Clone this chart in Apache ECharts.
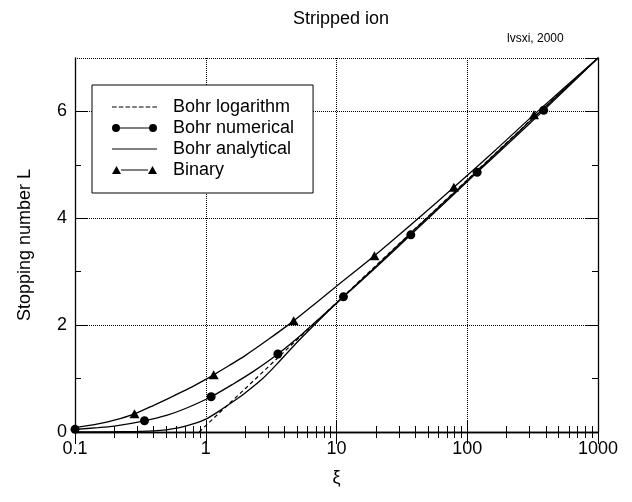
<!DOCTYPE html>
<html><head><meta charset="utf-8">
<script src="https://cdn.jsdelivr.net/npm/echarts@6/dist/echarts.min.js"></script>
<style>html,body{margin:0;padding:0;background:#fff}#c{width:632px;height:502px}</style>
</head><body><div id="c"></div>
<script>
const titleText = 'Stripped ion';
const creditText = 'lvsxi, 2000';
const xName = 'ξ';
const yName = 'Stopping number L';
const seriesNames = ['Bohr logarithm', 'Bohr numerical', 'Bohr analytical', 'Binary'];

const xMinorTicks = [0.2,0.3,0.4,0.5,0.6,0.7,0.8,0.9,2,3,4,5,6,7,8,9,20,30,40,50,60,70,80,90,200,300,400,500,600,700,800,900];
const yMinorTicks = [1, 3, 5];

const logXi = [0.89, 1, 2, 5, 10, 30, 100, 300, 1000];
const logL  = [0, 0.12, 0.81, 1.73, 2.42, 3.52, 4.72, 5.82, 7.0];

const numXi = [0.1, 0.15, 0.2, 0.34, 0.5, 0.7, 1.1, 1.6, 2.3, 3.56, 5.5, 8, 11.3, 20, 37, 70, 119, 200, 384, 1000];
const numL  = [0.05, 0.08, 0.11, 0.21, 0.31, 0.44, 0.66, 0.89, 1.13, 1.46, 1.84, 2.2, 2.53, 3.08, 3.69, 4.33, 4.86, 5.37, 6.02, 7.0];
const numMarkXi = [0.1, 0.34, 1.1, 3.56, 11.3, 37, 119, 384];
const numMarkL  = [0.05, 0.21, 0.66, 1.46, 2.53, 3.69, 4.86, 6.02];

const anaXi = [0.1, 0.2, 0.3, 0.4, 0.5, 0.63, 0.8, 1.0, 1.3, 1.6, 2, 2.7, 3.5, 5, 7, 10, 20, 40, 100, 300, 1000];
const anaL  = [0, 0.005, 0.012, 0.02, 0.04, 0.08, 0.15, 0.24, 0.41, 0.56, 0.73, 0.99, 1.27, 1.68, 2.04, 2.41, 3.1, 3.8, 4.71, 5.81, 7.0];

const binXi = [0.1, 0.15, 0.2, 0.285, 0.4, 0.53, 0.75, 1.0, 1.15, 1.5, 2, 3, 4.7, 7, 10, 19.5, 40, 79, 160, 324, 1000];
const binL  = [0.08, 0.15, 0.22, 0.34, 0.5, 0.64, 0.82, 0.985, 1.07, 1.24, 1.43, 1.73, 2.08, 2.42, 2.73, 3.3, 3.95, 4.58, 5.25, 5.94, 7.0];
const binMarkXi = [0.285, 1.15, 4.7, 19.5, 79, 324];
const binMarkL  = [0.34, 1.07, 2.08, 3.3, 4.58, 5.94];

const zip = (a, b) => a.map((v, i) => [v, b[i]]);
const FONT = 'Liberation Sans, Arial, sans-serif';
const BLACK = '#000';

const dashIcon = 'path://M0,5.4h4.5v1.2h-4.5z M6.5,5.4h4.5v1.2h-4.5z M13,5.4h4.5v1.2h-4.5z M19.5,5.4h4.5v1.2h-4.5z M26,5.4h4.5v1.2h-4.5z M32.5,5.4h4.5v1.2h-4.5z M39,5.4h4.5v1.2h-4.5z';
const circIcon = 'path://M0,6a4,4 0 1,0 8,0a4,4 0 1,0 -8,0z M8,5.4H37V6.6H8Z M37,6a4,4 0 1,0 8,0a4,4 0 1,0 -8,0z';
const lineIcon = 'path://M0,5.4H45V6.6H0Z';
const triIcon = 'path://M0,10L4.5,2L9,10Z M9,5.4H36V6.6H9Z M36,10L40.5,2L45,10Z';
const icons = [dashIcon, circIcon, lineIcon, triIcon];

function xAxisBase(extra) {
  return Object.assign({
    type: 'log', logBase: 10, min: 0.1, max: 1000, gridIndex: 0,
    axisLine: { show: false, lineStyle: { color: BLACK, width: 1.3 } },
    axisTick: { show: false },
    axisLabel: { show: false },
    splitLine: { show: false },
    minorTick: { show: false },
    minorSplitLine: { show: false }
  }, extra);
}
function yAxisBase(extra) {
  return Object.assign({
    type: 'value', min: 0, max: 7, interval: 2, gridIndex: 0,
    axisLine: { show: false, lineStyle: { color: BLACK, width: 1.3 } },
    axisTick: { show: false },
    axisLabel: { show: false },
    splitLine: { show: false }
  }, extra);
}

const lineCommon = { type: 'line', xAxisIndex: 0, yAxisIndex: 0, color: BLACK,
  showSymbol: false, symbol: 'none', smooth: 0.25, z: 3 };

const chart = echarts.init(document.getElementById('c'), null, { renderer: 'canvas' });
chart.setOption({
  animation: false,
  backgroundColor: '#fff',
  title: [
    { text: titleText, left: 336, top: 5, textAlign: 'center',
      textStyle: { fontFamily: FONT, fontSize: 18, fontWeight: 'normal', color: BLACK } },
    { text: creditText, left: 502, top: 28,
      textStyle: { fontFamily: FONT, fontSize: 12, fontWeight: 'normal', color: BLACK } }
  ],
  grid: { left: 75, right: 34, top: 58, bottom: 70, containLabel: false },
  legend: {
    orient: 'vertical', left: 92, top: 85,
    padding: [13, 19, 14, 20],
    itemWidth: 45, itemHeight: 12, itemGap: 3,
    backgroundColor: '#fff', borderColor: BLACK, borderWidth: 1, borderRadius: 0,
    selectedMode: false, symbolKeepAspect: true,
    itemStyle: { color: BLACK, borderWidth: 0, opacity: 1 },
    textStyle: { fontFamily: FONT, fontSize: 18, color: BLACK, lineHeight: 18, padding: [0, 0, 0, 11] },
    data: seriesNames.map((n, i) => ({ name: n, icon: icons[i] }))
  },
  xAxis: [
    xAxisBase({
      position: 'bottom',
      axisLine: { show: true, lineStyle: { color: BLACK, width: 1.3 } },
      axisTick: { show: true, inside: true, length: 12, lineStyle: { color: BLACK, width: 1 } },
      axisLabel: { show: true, fontFamily: FONT, fontSize: 18, color: BLACK, margin: 8,
        formatter: v => String(v) },
      splitLine: { show: true, lineStyle: { color: BLACK, type: 'dotted', width: 1 } },
      name: xName, nameLocation: 'middle', nameGap: 37,
      nameTextStyle: { fontFamily: FONT, fontSize: 18, color: BLACK }
    }),
    xAxisBase({
      position: 'bottom',
      axisTick: { show: true, inside: true, length: 6, customValues: xMinorTicks, lineStyle: { color: BLACK, width: 1 } }
    }),
    xAxisBase({
      position: 'top',
      axisLine: { show: true, lineStyle: { color: BLACK, width: 1.3 } },
      axisTick: { show: true, inside: true, length: 12, lineStyle: { color: BLACK, width: 1 } }
    }),
    xAxisBase({
      position: 'top',
      axisTick: { show: true, inside: true, length: 6, customValues: xMinorTicks, lineStyle: { color: BLACK, width: 1 } }
    })
  ],
  yAxis: [
    yAxisBase({
      position: 'left',
      axisLine: { show: true, lineStyle: { color: BLACK, width: 1.3 } },
      axisTick: { show: true, inside: true, length: 12, lineStyle: { color: BLACK, width: 1 } },
      axisLabel: { show: true, fontFamily: FONT, fontSize: 18, color: BLACK, margin: 8, showMaxLabel: false },
      splitLine: { show: true, lineStyle: { color: BLACK, type: 'dotted', width: 1 } },
      name: yName, nameLocation: 'middle', nameGap: 41,
      nameTextStyle: { fontFamily: FONT, fontSize: 18, color: BLACK }
    }),
    yAxisBase({
      position: 'left',
      axisTick: { show: true, inside: true, length: 6, customValues: yMinorTicks, lineStyle: { color: BLACK, width: 1 } }
    }),
    yAxisBase({
      position: 'right',
      axisLine: { show: true, lineStyle: { color: BLACK, width: 1.3 } },
      axisTick: { show: true, inside: true, length: 12, lineStyle: { color: BLACK, width: 1 } }
    }),
    yAxisBase({
      position: 'right',
      axisTick: { show: true, inside: true, length: 6, customValues: yMinorTicks, lineStyle: { color: BLACK, width: 1 } }
    })
  ],
  series: [
    Object.assign({}, lineCommon, { name: seriesNames[0], data: zip(logXi, logL), smooth: false,
      lineStyle: { color: BLACK, width: 1.2, type: [4, 3] } }),
    Object.assign({}, lineCommon, { name: seriesNames[1], data: zip(numXi, numL),
      lineStyle: { color: BLACK, width: 1.3 } }),
    { name: seriesNames[1], type: 'scatter', xAxisIndex: 0, yAxisIndex: 0, color: BLACK,
      data: zip(numMarkXi, numMarkL), symbol: 'circle', symbolSize: 9,
      itemStyle: { color: BLACK, opacity: 1 }, z: 4 },
    Object.assign({}, lineCommon, { name: seriesNames[2], data: zip(anaXi, anaL),
      lineStyle: { color: BLACK, width: 1.3 } }),
    Object.assign({}, lineCommon, { name: seriesNames[3], data: zip(binXi, binL),
      lineStyle: { color: BLACK, width: 1.3 } }),
    { name: seriesNames[3], type: 'scatter', xAxisIndex: 0, yAxisIndex: 0, color: BLACK,
      data: zip(binMarkXi, binMarkL), symbol: 'triangle', symbolSize: [10, 9],
      itemStyle: { color: BLACK, opacity: 1 }, z: 4 }
  ]
});
</script>
</body></html>
